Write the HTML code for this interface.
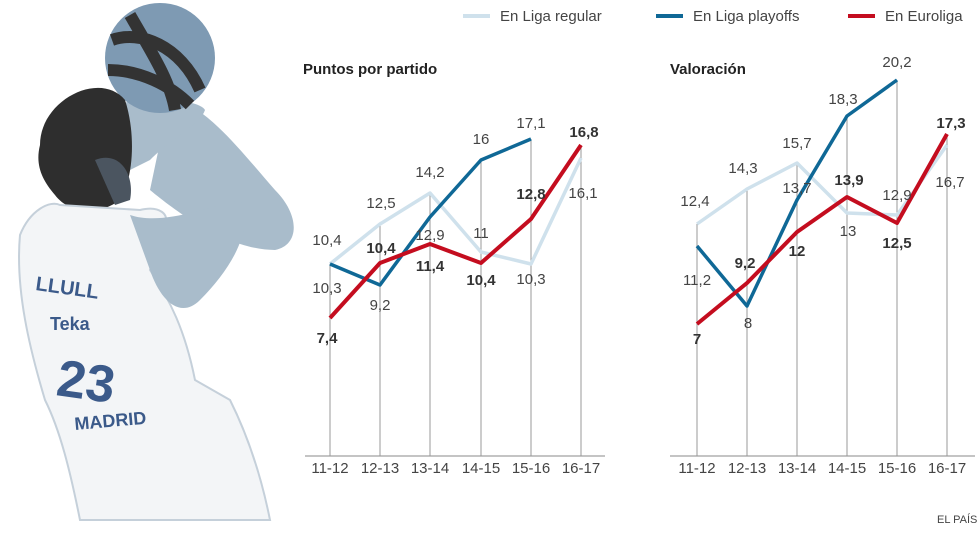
<!DOCTYPE html>
<html><head><meta charset="utf-8"><style>
body{margin:0;background:#fff;}
svg{display:block;font-family:"Liberation Sans",sans-serif;}
</style></head><body>
<svg width="980" height="547" viewBox="0 0 980 547">
<!-- player approximation -->
<g>
<path d="M170,95 C210,110 240,150 275,190 C300,215 300,245 275,250 C230,250 180,215 150,190 Z" fill="#a9bccb"/>
<path d="M115,105 C150,95 200,100 205,110 C200,125 175,135 150,160 L120,175 Z" fill="#a9bccb"/>
<circle cx="160" cy="58" r="55" fill="#7e9ab3"/>
<path d="M112,40 C140,30 180,45 200,90 M130,15 C150,50 170,80 175,110 M108,70 C140,70 170,85 190,105" stroke="#333" stroke-width="12" fill="none"/>
<path d="M40,145 C40,100 100,70 125,100 C135,130 135,175 120,200 C100,215 70,215 55,195 C42,180 35,165 40,145Z" fill="#2e2e2e"/>
<path d="M95,160 C120,150 135,175 130,200 L115,205 Z" fill="#4b5560"/>
<path d="M20,235 C30,210 50,200 60,205 L140,210 C160,205 170,215 165,225 L150,270 C170,300 185,330 195,380 L230,400 C245,430 260,470 270,520 L80,520 C70,470 60,430 45,400 C30,350 15,290 20,235Z" fill="#f3f5f7" stroke="#c5d0da" stroke-width="2"/>
<path d="M130,215 C160,225 200,210 240,200 C255,230 230,270 200,300 C180,320 160,300 150,270 Z" fill="#a9bccb"/>
<text x="35" y="290" font-size="20" font-weight="bold" fill="#3b5a8a" transform="rotate(8 35 290)">LLULL</text>
<text x="50" y="330" font-size="18" font-weight="bold" fill="#3b5a8a">Teka</text>
<text x="55" y="395" font-size="52" font-weight="bold" fill="#3b5a8a" transform="rotate(8 55 395)">23</text>
<text x="75" y="430" font-size="18" font-weight="bold" fill="#3b5a8a" transform="rotate(-5 75 430)">MADRID</text>
</g>
<!-- legend -->
<g font-size="15" fill="#444">
<line x1="463" y1="16" x2="490" y2="16" stroke="#cfe1ec" stroke-width="4"/><text x="500" y="21">En Liga regular</text>
<line x1="656" y1="16" x2="683" y2="16" stroke="#0f6896" stroke-width="4"/><text x="693" y="21">En Liga playoffs</text>
<line x1="848" y1="16" x2="875" y2="16" stroke="#c40d1f" stroke-width="4"/><text x="885" y="21">En Euroliga</text>
</g>
<text x="303" y="74" font-size="15" font-weight="bold" fill="#222">Puntos por partido</text>
<text x="670" y="74" font-size="15" font-weight="bold" fill="#222">Valoración</text>
<!-- left chart -->
<g stroke="#999" stroke-width="1">
<line x1="305" y1="456" x2="605" y2="456" stroke="#888"/>
<line x1="330" y1="264" x2="330" y2="456"/><line x1="380" y1="224" x2="380" y2="456"/>
<line x1="430" y1="193" x2="430" y2="456"/><line x1="481" y1="160" x2="481" y2="456"/>
<line x1="531" y1="139" x2="531" y2="456"/><line x1="581" y1="145" x2="581" y2="456"/>
</g>
<g fill="none" stroke-width="3.5" stroke-linejoin="round">
<polyline points="330,264 380,224 430,193 481,252 531,264 581,158" stroke="#cfe1ec"/>
<polyline points="330,264 380,285 430,217 481,160 531,139" stroke="#0f6896"/>
<polyline points="330,318 380,263 430,244 481,263 531,219 581,145" stroke="#c40d1f" stroke-width="4"/>
</g>
<g font-size="15" fill="#444" text-anchor="middle">
<text x="327" y="245">10,4</text><text x="327" y="293">10,3</text><text x="381" y="208">12,5</text><text x="380" y="310">9,2</text>
<text x="430" y="177">14,2</text><text x="430" y="240">12,9</text><text x="481" y="144">16</text><text x="481" y="238">11</text>
<text x="531" y="128">17,1</text><text x="531" y="284">10,3</text><text x="583" y="198">16,1</text>
<g font-weight="bold" fill="#333"><text x="327" y="343">7,4</text><text x="381" y="253">10,4</text><text x="430" y="271">11,4</text><text x="481" y="285">10,4</text><text x="531" y="199">12,8</text><text x="584" y="137">16,8</text></g>
<text x="330" y="473">11-12</text><text x="380" y="473">12-13</text><text x="430" y="473">13-14</text><text x="481" y="473">14-15</text><text x="531" y="473">15-16</text><text x="581" y="473">16-17</text>
</g>
<!-- right chart -->
<g stroke="#999" stroke-width="1">
<line x1="670" y1="456" x2="975" y2="456" stroke="#888"/>
<line x1="697" y1="224" x2="697" y2="456"/><line x1="747" y1="189" x2="747" y2="456"/>
<line x1="797" y1="163" x2="797" y2="456"/><line x1="847" y1="116" x2="847" y2="456"/>
<line x1="897" y1="80" x2="897" y2="456"/><line x1="947" y1="134" x2="947" y2="456"/>
</g>
<g fill="none" stroke-width="3.5" stroke-linejoin="round">
<polyline points="697,224 747,189 797,163 847,213 897,215 947,145" stroke="#cfe1ec"/>
<polyline points="697,246 747,306 797,200 847,116 897,80" stroke="#0f6896"/>
<polyline points="697,324 747,283 797,232 847,197 897,223 947,134" stroke="#c40d1f" stroke-width="4"/>
</g>
<g font-size="15" fill="#444" text-anchor="middle">
<text x="695" y="206">12,4</text><text x="697" y="285">11,2</text><text x="743" y="173">14,3</text><text x="748" y="328">8</text>
<text x="797" y="148">15,7</text><text x="797" y="193">13,7</text><text x="843" y="104">18,3</text><text x="848" y="236">13</text>
<text x="897" y="67">20,2</text><text x="897" y="200">12,9</text><text x="950" y="187">16,7</text>
<g font-weight="bold" fill="#333"><text x="697" y="344">7</text><text x="745" y="268">9,2</text><text x="797" y="256">12</text><text x="849" y="185">13,9</text><text x="897" y="248">12,5</text><text x="951" y="128">17,3</text></g>
<text x="697" y="473">11-12</text><text x="747" y="473">12-13</text><text x="797" y="473">13-14</text><text x="847" y="473">14-15</text><text x="897" y="473">15-16</text><text x="947" y="473">16-17</text>
</g>
<text x="937" y="523" font-size="11" fill="#444">EL PAÍS</text>
</svg>
</body></html>
